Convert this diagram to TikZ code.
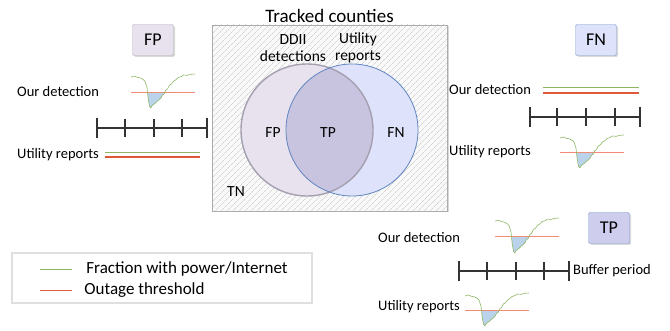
\documentclass[tikz,border=0pt]{standalone}
\usepackage{fontspec}
\setmainfont{Carlito}
\usetikzlibrary{patterns.meta,shadows,positioning}
\definecolor{powergreen}{RGB}{140,182,100}
\definecolor{outagered}{RGB}{222,88,58}
\definecolor{threshred}{RGB}{240,140,118}
\definecolor{dipblue}{RGB}{186,210,234}
\definecolor{fpfill}{RGB}{231,226,238}
\definecolor{fnfill}{RGB}{222,226,250}
\definecolor{tpfill}{RGB}{206,205,238}
\definecolor{overlapfill}{RGB}{200,196,224}
\definecolor{vennblue}{RGB}{96,132,192}
\definecolor{venngray}{RGB}{165,160,176}

% one outage curve, drawn in a unit box (y grows downwards)
\newcommand{\dippath}{(0,0.09) -- (0.05,0.06) -- (0.1,0.1) -- (0.15,0.12) -- (0.19,0.16) -- (0.22,0.22) -- (0.25,0.4) -- (0.27,0.75) -- (0.29,0.95) -- (0.31,1.0) -- (0.33,0.93) -- (0.35,0.9) -- (0.38,0.86) -- (0.41,0.8) -- (0.44,0.76) -- (0.47,0.7) -- (0.49,0.62) -- (0.52,0.58) -- (0.54,0.48) -- (0.57,0.44) -- (0.6,0.33) -- (0.63,0.3) -- (0.66,0.22) -- (0.7,0.17) -- (0.74,0.1) -- (0.78,0.08) -- (0.82,0.03) -- (0.88,0.04) -- (0.93,0.01) -- (1,0.0)}

\tikzset{
  dip/.pic={
    \begin{scope}
      \clip (0,0.53) rectangle (1,1.2);
      \fill[dipblue] \dippath -- (1,0.53) -- (0,0.53) -- cycle;
    \end{scope}
    \draw[threshred,line width=0.8pt] (0,0.53) -- (1,0.53);
    \draw[powergreen,line width=0.6pt,line join=round] \dippath;
  },
  casebox/.style={draw,rounded corners=1.5pt,inner sep=0pt,minimum width=41pt,minimum height=31pt,
    font=\fontsize{18}{20}\selectfont,drop shadow={opacity=0.3,shadow xshift=1.5pt,shadow yshift=-1.5pt}},
  paneltext/.style={anchor=west,inner sep=0pt,font=\fontsize{14.5}{17}\selectfont},
  venntext/.style={inner sep=0pt,font=\fontsize{15.5}{17}\selectfont},
  legendtext/.style={inner sep=0pt,text=black,font=\fontsize{17}{19}\selectfont},
  timeline/.style={line width=1.1pt,draw=black!80},
  greenline/.style={powergreen,line width=0.9pt},
  redline/.style={outagered,line width=1.2pt},
}

\begin{document}
\begin{tikzpicture}[x=1pt,y=-1pt]
	\useasboundingbox (0,0) rectangle (670,331);
	% tracked counties
	\node[draw=gray!65,inner sep=0pt,minimum width=235pt,minimum height=186pt,
	      preaction={fill=gray!5,drop shadow={opacity=0.3,shadow xshift=1.5pt,shadow yshift=-1.5pt}},
	      pattern={Lines[angle=45,distance=4pt,line width=0.4pt]},pattern color=gray!50] (counties) at (329.5,118) {};
	\node[above=2pt of counties,inner sep=0pt,font=\fontsize{19}{21}\selectfont] (title) {Tracked counties};
	\fill[fpfill] (307,130) circle (66);
	\fill[fnfill] (352,130) circle (66);
	\begin{scope}
		\clip (307,130) circle (66);
		\fill[overlapfill] (352,130) circle (66);
	\end{scope}
	\node[circle,draw=venngray,line width=1.4pt,minimum size=132pt] (ddii) at (307,130) {};
	\node[circle,draw=vennblue,line width=0.8pt,minimum size=132pt] (util) at (352,130) {};
	\node[venntext,align=center] (ddiilabel) at (293,48) {DDII\\detections};
	\node[venntext,align=center] (utillabel) at (358,48) {Utility\\reports};
	\node[venntext] (fpv) at (273,133) {FP};
	\node[venntext] (tpv) at (328,133) {TP};
	\node[venntext] (fnv) at (396,133) {FN};
	\node[venntext] (tnv) at (236,192) {TN};
	% FP panel
	\node[casebox,fill=fpfill,draw=gray!60] (fpbox) at (153,40) {FP};
	\node[paneltext] (fpour) at (17,92) {Our detection};
	\pic[xscale=64,yscale=34] at (131,74) {dip};
	\draw[timeline] (97,128) -- (207,128);
	\draw[timeline] (97,118) -- (97,138);
	\draw[timeline] (125,119) -- (125,137);
	\draw[timeline] (154,119) -- (154,137);
	\draw[timeline] (182,119) -- (182,137);
	\draw[timeline] (207,118) -- (207,138);
	\node[paneltext] (fputil) at (17,155) {Utility reports};
	\draw[greenline] (105,152) -- (200,152);
	\draw[redline] (105,157) -- (200,157);
	% FN panel
	\node[casebox,fill=fnfill,draw=vennblue!80] (fnbox) at (596,40) {FN};
	\node[paneltext] (fnour) at (449,90) {Our detection};
	\draw[greenline] (543,87) -- (639,87);
	\draw[redline] (543,93) -- (639,93);
	\draw[timeline] (530,117) -- (640,117);
	\draw[timeline] (530,107) -- (530,127);
	\draw[timeline] (557,108) -- (557,126);
	\draw[timeline] (586,108) -- (586,126);
	\draw[timeline] (615,108) -- (615,126);
	\draw[timeline] (640,107) -- (640,127);
	\node[paneltext] (fnutil) at (449,152) {Utility reports};
	\pic[xscale=64,yscale=33] at (560,135) {dip};
	% TP panel
	\node[casebox,fill=tpfill,draw=vennblue!80] (tpbox) at (609,228) {TP};
	\node[paneltext] (tpour) at (378,238) {Our detection};
	\pic[xscale=64,yscale=35] at (495,218) {dip};
	\draw[timeline] (459,271) -- (569,271);
	\draw[timeline] (459,261) -- (459,281);
	\draw[timeline] (487,262) -- (487,280);
	\draw[timeline] (516,262) -- (516,280);
	\draw[timeline] (544,262) -- (544,280);
	\draw[timeline] (569,261) -- (569,281);
	\node[paneltext] (buffer) at (573,271) {Buffer period};
	\node[paneltext] (tputil) at (378,307) {Utility reports};
	\pic[xscale=64,yscale=33] at (465,293) {dip};
	% legend
	\node[draw=gray!25,line width=1.5pt,inner sep=0pt,minimum width=300pt,minimum height=50pt] (legend) at (162,278) {};
	\coordinate (greenstart) at (40,269);
	\coordinate (redstart) at (40,290);
	\draw[powergreen,line width=0.8pt] (greenstart) -- ++(32,0) node[legendtext,right=14pt] (fraction) {Fraction with power/Internet};
	\draw[outagered,line width=0.8pt] (redstart) -- ++(32,0) node[legendtext,right=12pt] (outage) {Outage threshold};
\end{tikzpicture}
\end{document}
